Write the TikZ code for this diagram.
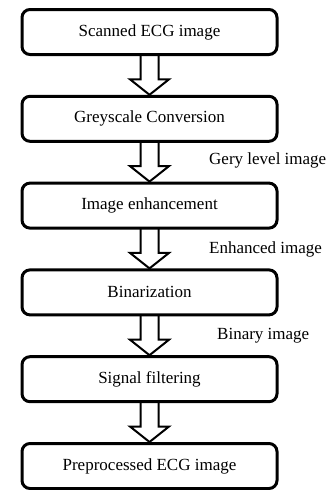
\documentclass[tikz,border=0pt]{standalone}
\usepackage{fontspec}
\setmainfont{Liberation Serif}
\usetikzlibrary{positioning, calc}

\newcommand{\blockarrow}[2]{%
  \draw[flow] ($(#1.south)+(-9,0)$) -- ($(#2.north)+(-9,17)$) -- ($(#2.north)+(-19.5,17)$)
    -- ($(#2.north)+(0,1.5)$) -- ($(#2.north)+(19.5,17)$) -- ($(#2.north)+(9,17)$) -- ($(#1.south)+(9,0)$);}

\begin{document}
\begin{tikzpicture}[x=1pt, y=1pt, node distance = 41.8pt,
    stage/.style = {draw, rectangle, rounded corners=8pt, line width=3pt, outer sep=0pt,
                    minimum width=255pt, minimum height=45pt, font=\fontsize{17}{20}\selectfont},
    tag/.style = {anchor=west, inner sep=0pt, font=\fontsize{17}{20}\selectfont},
    flow/.style = {line width=2pt, line join=miter}]
      \useasboundingbox (0,0) rectangle (330,-490);

      \node[stage] (scan) at (149.5,-32) {Scanned ECG image};
      \node[stage] (grey) [below = of scan] {Greyscale Conversion};
      \node[stage] (enh) [below = of grey] {Image enhancement};
      \node[stage] (bin) [below = of enh] {Binarization};
      \node[stage] (filt) [below = of bin] {Signal filtering};
      \node[stage] (pre) [below = of filt] {Preprocessed ECG image};

      \blockarrow{scan}{grey}
      \blockarrow{grey}{enh}
      \blockarrow{enh}{bin}
      \blockarrow{bin}{filt}
      \blockarrow{filt}{pre}

      \node[tag] (t1) at ($(grey.south)!0.5!(enh.north)+(59.5,2)$) {Gery level image};
      \node[tag] (t2) at ($(enh.south)!0.5!(bin.north)+(59.5,0)$) {Enhanced image};
      \node[tag] (t3) at ($(bin.south)!0.5!(filt.north)+(67.5,0)$) {Binary image};
    \end{tikzpicture}
\end{document}
